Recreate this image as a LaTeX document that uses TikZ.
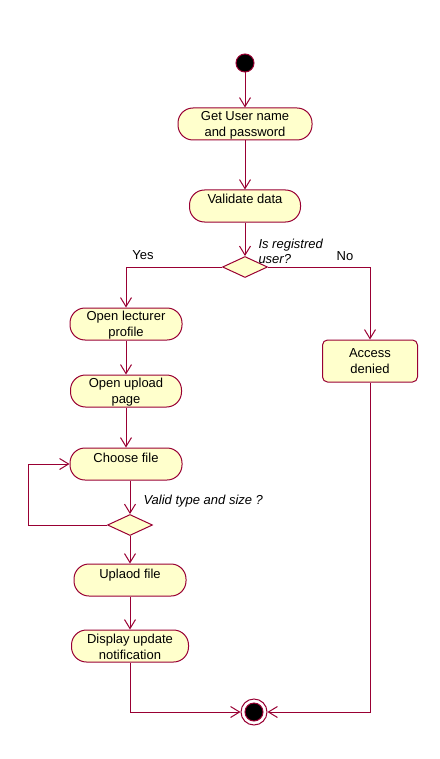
\documentclass[tikz,border=0pt]{standalone}
\usepackage{fontspec}
\setmainfont{Liberation Sans}
\usetikzlibrary{arrows.meta,shapes.geometric,positioning}
\definecolor{rosered}{RGB}{153,0,51}
\definecolor{roseyellow}{RGB}{255,255,204}

\begin{document}
\begin{tikzpicture}[
  x=1pt, y=-1pt, line width=1pt,
  font=\fontsize{13}{16}\selectfont, >={Straight Barb[length=9pt,width=11pt]},
  activity/.style={rectangle, minimum height=32pt, draw=rosered, fill=roseyellow, rounded corners=15pt, align=center, inner sep=1pt},
  oneline/.style={text height=12pt, text depth=16pt},
  state/.style={rectangle, minimum height=42pt, minimum width=95pt, draw=rosered, fill=roseyellow, rounded corners=5pt, align=center},
  decision/.style={diamond, minimum width=45pt, minimum height=21pt, inner sep=0pt, draw=rosered, fill=roseyellow},
  startdot/.style={circle, minimum size=18pt, inner sep=0pt, draw=rosered, fill=black},
  stopring/.style={circle, minimum size=26pt, inner sep=0pt, draw=rosered},
  guard/.style={inner sep=0pt, align=left, font=\fontsize{13}{15}\selectfont\itshape},
  branch/.style={inner sep=0pt},
  flow/.style={draw=rosered, ->}
]
\useasboundingbox (0,0) rectangle (439,759);

\node[startdot] (start) at (245,63) {};
\node[activity, minimum width=134pt] (getuser) at (245,124) {\strut Get User name\\and password};
\node[activity, oneline, minimum width=111pt] (validate) at (245,206) {Validate data};
\node[decision] (check) at (245,267) {};
\node[guard, anchor=north west] (q1) at (258,239) {Is registred\\user?};
\node[branch, anchor=north] (yes) at (143,250) {Yes};
\node[branch, anchor=north] (no) at (345,251) {No};

\node[activity, minimum width=112pt] (profile) at (126,324) {\strut Open lecturer\\profile};
\node[activity, minimum width=111pt] (uploadpage) at (126,391) {\strut Open upload\\page};
\node[activity, oneline, minimum width=112pt] (choose) at (126,464) {Choose file};
\node[decision] (valid) at (130,525) {};
\node[guard, anchor=north west] (q2) at (143,495) {Valid type and size ?};
\node[activity, oneline, minimum width=112pt] (uploadfile) at (130,580) {Uplaod file};
\node[activity, minimum width=117pt] (notify) at (130,646) {\strut Display update\\notification};

\node[state] (denied) at (370,361) {Access\\denied};

\node[stopring] (stop) at (254,712) {};
\node[startdot] (stopdot) at (stop) {};
\coordinate (loop) at (28,525);

\draw[flow] (start) -- (getuser);
\draw[flow] (getuser) -- (validate);
\draw[flow] (validate) -- (check);
\draw[flow] (check.west) -| (profile.north);
\draw[flow] (check.east) -| (denied.north);
\draw[flow] (profile) -- (uploadpage);
\draw[flow] (uploadpage) -- (choose);
\draw[flow] (choose.south -| valid) -- (valid);
\draw[flow] (valid.west) -- (loop) |- (choose.west);
\draw[flow] (valid) -- (uploadfile);
\draw[flow] (uploadfile) -- (notify);
\draw[flow] (notify.south) |- (stop.west);
\draw[flow] (denied.south) |- (stop.east);
\end{tikzpicture}
\end{document}
